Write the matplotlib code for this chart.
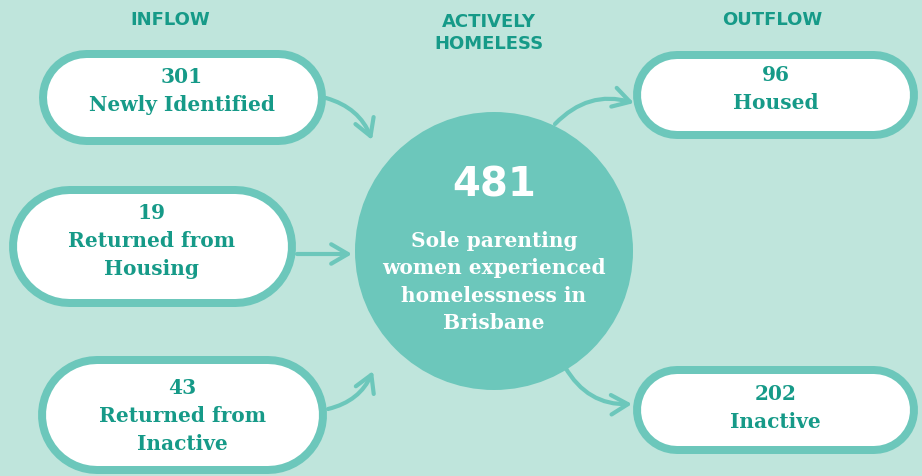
import matplotlib.pyplot as plt
from matplotlib.patches import Circle, FancyArrowPatch

# Colours
BG = '#bfe5dc'
EDGE = '#6cc7bb'
TEXT = '#169a88'

# Data
inflow_values = [301, 19, 43]
inflow_labels = ['Newly Identified', 'Returned from\nHousing', 'Returned from\nInactive']
outflow_values = [96, 202]
outflow_labels = ['Housed', 'Inactive']
total_value = 481
total_label = 'Sole parenting\nwomen experienced\nhomelessness in\nBrisbane'
headers = ['INFLOW', 'ACTIVELY\nHOMELESS', 'OUTFLOW']

# Layout (pixels, y down): x, y, w, h, first text line y
inflow_boxes = [(38, 50, 287, 95, 77), (8, 186, 287, 121, 213), (38, 357, 289, 118, 388)]
outflow_boxes = [(633, 52, 285, 88, 75), (633, 367, 285, 88, 394)]
header_pos = [(170, 20), (489, 33), (772, 20)]
CX, CY, R = 494, 252, 139

SLAB = 'DejaVu Serif'
SANS = 'DejaVu Sans'
PT = 0.72  # points per pixel at dpi 100

fig = plt.figure(figsize=(9.22, 4.77), dpi=100)
fig.patch.set_facecolor(BG)
ax = fig.add_axes([0, 0, 1, 1])
ax.set_xlim(0, 922)
ax.set_ylim(477, 0)
ax.axis('off')


def pill(x, y, w, h, ty, value, label):
    b = 8
    yc = y + h / 2
    xs = [x + h / 2, x + w - h / 2]
    ax.plot(xs, [yc, yc], color=EDGE, lw=h * PT, solid_capstyle='round', zorder=2)
    ax.plot(xs, [yc, yc], color='white', lw=(h - 2 * b) * PT,
            solid_capstyle='round', zorder=2)
    step = 28
    ax.text(x + w / 2, ty, str(value), ha='center', va='center', color=TEXT,
            fontsize=14.5, fontweight='bold', family=SLAB, zorder=3)
    for i, line in enumerate(label.split('\n')):
        ax.text(x + w / 2, ty + step * (i + 1), line, ha='center', va='center',
                color=TEXT, fontsize=14.5, fontweight='bold', family=SLAB, zorder=3)


for (x, y, w, h, ty), v, l in zip(inflow_boxes, inflow_values, inflow_labels):
    pill(x, y, w, h, ty, v, l)
for (x, y, w, h, ty), v, l in zip(outflow_boxes, outflow_values, outflow_labels):
    pill(x, y, w, h, ty, v, l)

for (hx, hy), t in zip(header_pos, headers):
    ax.text(hx, hy, t, ha='center', va='center', color=TEXT, fontsize=13,
            fontweight='bold', family=SANS, linespacing=1.35)

ax.add_patch(Circle((CX, CY), R, fc=EDGE, ec='none', zorder=2))
ax.text(CX, 186, str(total_value), ha='center', va='center', color='white',
        fontsize=29, fontweight='bold', family=SANS, zorder=3)
for i, line in enumerate(total_label.split('\n')):
    ax.text(CX, 241 + 27.5 * i, line, ha='center', va='center', color='white',
            fontsize=14.5, fontweight='bold', family=SLAB, zorder=3)

# Arrows
arrows = [((326, 99), (372, 141), -0.25),
          ((297, 255), (352, 255), 0.0),
          ((328, 410), (373, 372), 0.25),
          ((555, 125), (634, 104), -0.3),
          ((565, 368), (632, 405), 0.3)]
for start, end, rad in arrows:
    a = FancyArrowPatch(start, end, connectionstyle='arc3,rad=%f' % rad,
                        arrowstyle='->,head_length=12,head_width=7',
                        color=EDGE, lw=3, zorder=1, shrinkA=0, shrinkB=0,
                        capstyle='round', joinstyle='round')
    ax.add_patch(a)

fig.savefig('out.png', dpi=100, facecolor=BG)
